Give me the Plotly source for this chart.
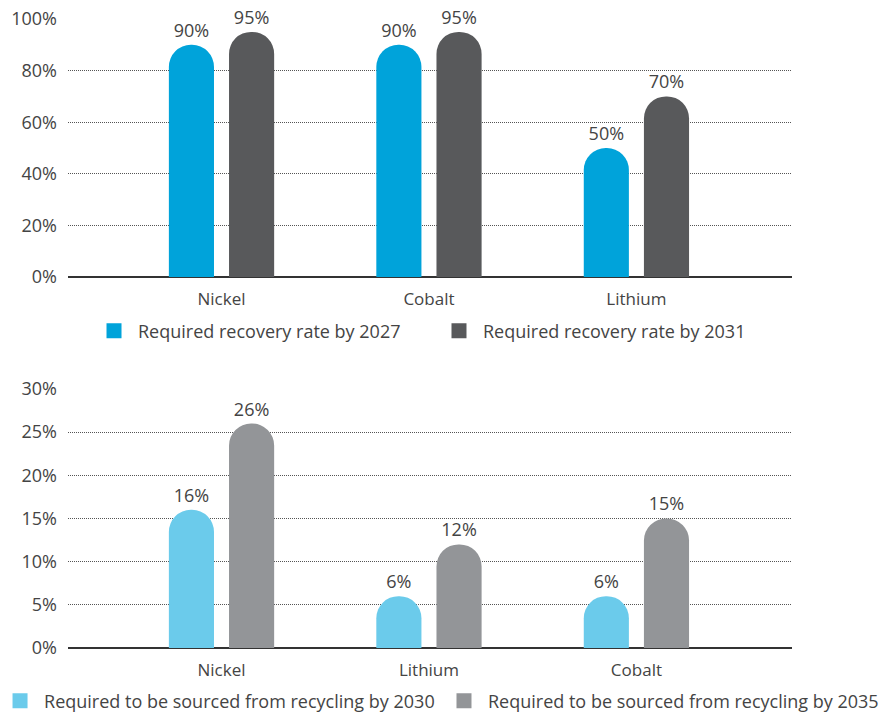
import plotly.graph_objects as go

# Recovery rates (upper panel)
recovery_categories = ["Nickel", "Cobalt", "Lithium"]
recovery_2027 = [90, 90, 50]
recovery_2031 = [95, 95, 70]
recovery_ticks = [0, 20, 40, 60, 80, 100]

# Recycled content shares (lower panel)
recycled_categories = ["Nickel", "Lithium", "Cobalt"]
recycled_2030 = [16, 6, 6]
recycled_2035 = [26, 12, 15]
recycled_ticks = [0, 5, 10, 15, 20, 25, 30]

FONT = "Open Sans, Liberation Sans, Arial, sans-serif"
TEXT_COLOR = "#444444"

fig = go.Figure()

def add_bar(x, y, name, color, xa, ya, legend):
    # rounded-top bar, labelled with its value
    fig.add_trace(go.Bar(
        x=x, y=y, name=name, legendgroup=name, showlegend=False,
        marker=dict(color=color, cornerradius=22, line=dict(width=0)),
        text=[f"{v}%" for v in y], textposition="outside", cliponaxis=False,
        textfont=dict(size=18, color=TEXT_COLOR, family=FONT),
        xaxis=xa, yaxis=ya,
    ))
    # square legend key for the same series
    fig.add_trace(go.Scatter(
        x=[None], y=[None], mode="markers", name=name, legendgroup=name,
        marker=dict(symbol="square", size=15, color=color),
        xaxis=xa, yaxis=ya, legend=legend, hoverinfo="skip",
    ))

add_bar(recovery_categories, recovery_2027, "Required recovery rate by 2027", "#00A3DA", "x", "y", "legend")
add_bar(recovery_categories, recovery_2031, "Required recovery rate by 2031", "#58595B", "x", "y", "legend2")
add_bar(recycled_categories, recycled_2030, "Required to be sourced from recycling by 2030", "#6BCBEB", "x2", "y2", "legend3")
add_bar(recycled_categories, recycled_2035, "Required to be sourced from recycling by 2035", "#939598", "x2", "y2", "legend4")

xaxis_style = dict(
    type="category", range=[-0.74, 2.75], showgrid=False, showline=False,
    ticks="", ticklabelstandoff=10,
    tickfont=dict(size=17, color=TEXT_COLOR, family=FONT), fixedrange=True,
)
yaxis_style = dict(
    showgrid=True, gridcolor="#555555", gridwidth=1, griddash="1px,1px",
    zeroline=True, zerolinecolor="#333333", zerolinewidth=2,
    ticks="", ticklabelstandoff=10,
    tickfont=dict(size=18, color=TEXT_COLOR, family=FONT), showline=False,
)

legend_style = dict(
    orientation="h", xanchor="left", yanchor="middle", itemwidth=38,
    font=dict(size=18, color=TEXT_COLOR, family=FONT), bgcolor="rgba(0,0,0,0)",
    itemclick=False, itemdoubleclick=False,
)

fig.update_layout(
    width=884, height=715,
    margin=dict(l=68, r=92, t=19, b=67, autoexpand=False),
    paper_bgcolor="white", plot_bgcolor="white",
    barmode="group", bargap=0.42, bargroupgap=0.25,
    showlegend=True,
    font=dict(family=FONT, color=TEXT_COLOR),
    xaxis=dict(domain=[0, 1], anchor="y", **xaxis_style),
    yaxis=dict(domain=[0.5898, 1.0], range=[0, 100], tickvals=recovery_ticks,
               ticktext=[f"{v}%" for v in recovery_ticks], anchor="x", **yaxis_style),
    xaxis2=dict(domain=[0, 1], anchor="y2", **xaxis_style),
    yaxis2=dict(domain=[0.0, 0.4118], range=[0, 30], tickvals=recycled_ticks,
                ticktext=[f"{v}%" for v in recycled_ticks], anchor="x2", **yaxis_style),
    legend=dict(x=0.0304, y=0.504, **legend_style),
    legend2=dict(x=0.5069, y=0.504, **legend_style),
    legend3=dict(x=-0.0994, y=-0.0843, **legend_style),
    legend4=dict(x=0.5138, y=-0.0843, **legend_style),
)

fig.write_html("out.html")
